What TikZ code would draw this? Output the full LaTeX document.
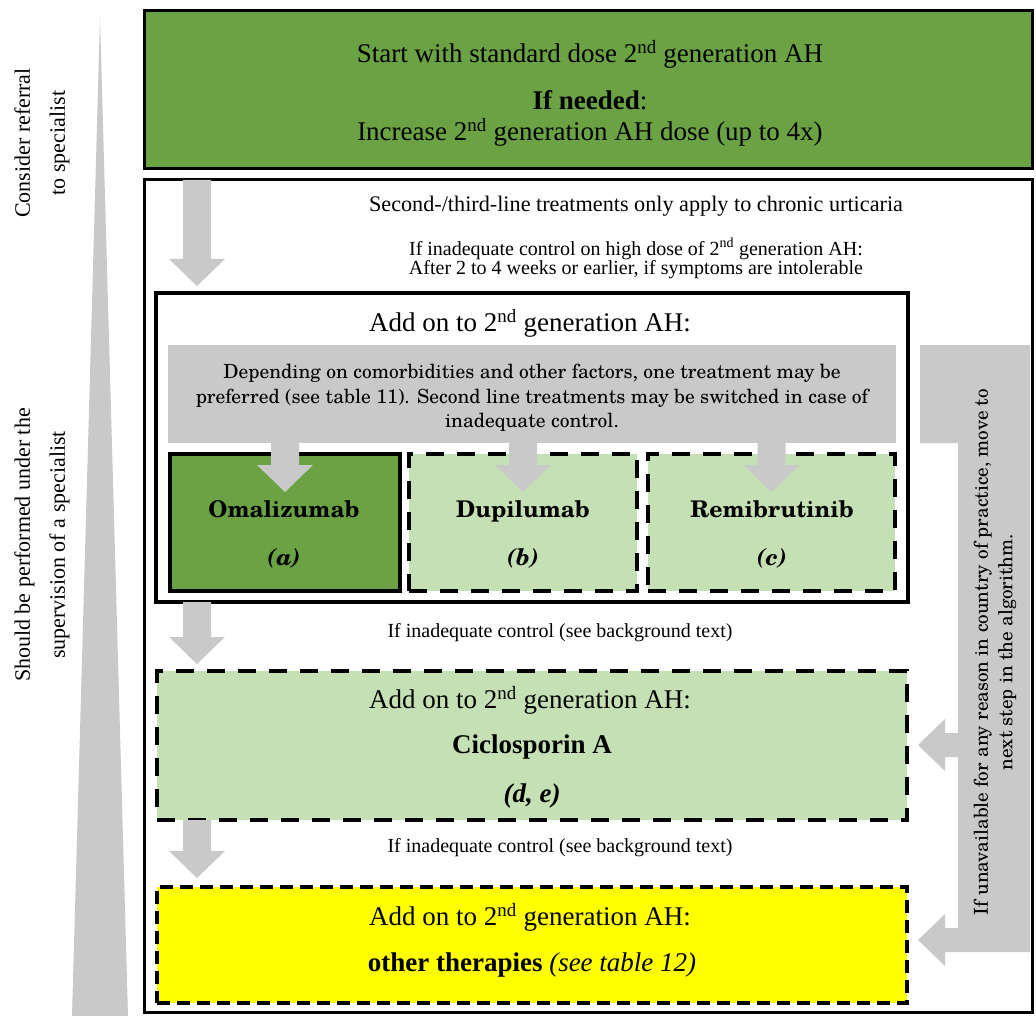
\documentclass[tikz,border=0pt]{standalone}
\usepackage{fontspec}
\setmainfont{Liberation Serif}
\newfontfamily\cent{TeX Gyre Schola}
\usetikzlibrary{calc}
\definecolor{dgreen}{HTML}{6AA244}
\definecolor{lgreen}{HTML}{C5E0B4}
\definecolor{agrey}{HTML}{C9C9C9}
\definecolor{yel}{HTML}{FFFF00}
\begin{document}
\begin{tikzpicture}[x=1pt,y=-1pt,
  every node/.style={inner sep=0pt, outer sep=0pt},
  solidbox/.style={draw=black, line width=3pt, rectangle, anchor=north west},
  dashbox/.style={draw=black, line width=4.5pt, dash pattern=on 18pt off 13pt, rectangle, anchor=north west},
  fdash/.style={draw=black, line width=4.5pt, dash pattern=on 13pt off 7pt, rectangle, anchor=north west},
  big/.style={font=\fontsize{27}{32}\selectfont},
  mid/.style={font=\fontsize{20}{24}\selectfont},
  cen/.style={font=\cent\fontsize{19.5}{24.5}\selectfont, align=center},
  lab/.style={font=\cent\bfseries\fontsize{23}{28}\selectfont, text height=17pt, text depth=5pt},
  pics/dnarrow/.style={code={\fill[agrey] (-14,0) -- (14,0) -- (14,{#1-27}) -- (28,{#1-27}) -- (0,#1) -- (-28,{#1-27}) -- (-14,{#1-27}) -- cycle;}}
]
\useasboundingbox (0,0) rectangle (1036,1016);
\fill[white] (0,0) rectangle (1036,1016);

% left wedge and labels
\fill[agrey] (100,18) -- (128,1016) -- (72,1016) -- cycle;
\node[rotate=90, align=center, font=\fontsize{22}{35}\selectfont] (lref) at (42,143) {Consider referral\\to specialist};
\node[rotate=90, align=center, font=\fontsize{22}{35}\selectfont] (lsup) at (42,545) {Should be performed under the\\supervision of a specialist};

% top green box
\node[solidbox, fill=dgreen, minimum width=888pt, minimum height=158pt] (top) at (144,11) {};
\node[big] (t1) at (590,54) {Start with standard dose 2\textsuperscript{nd} generation AH};
\node[big] (t2) at (590,100) {\textbf{If needed}:};
\node[big] (t3) at (590,132) {Increase 2\textsuperscript{nd} generation AH dose (up to 4x)};

% outer box
\node[solidbox, minimum width=888pt, minimum height=832pt] (outer) at (144,180) {};
\node[font=\fontsize{22.2}{24}\selectfont] (s1) at (636,206) {Second-/third-line treatments only apply to chronic urticaria};
\node[mid] (s2) at (636,249) {If inadequate control on high dose of 2\textsuperscript{nd} generation AH:};
\node[mid] (s3) at (636,270) {After 2 to 4 weeks or earlier, if symptoms are intolerable};

% second-line box
\node[solidbox, line width=3.5pt, minimum width=752pt, minimum height=309pt] (inner) at (156,293) {};
\node[big] (i1) at (530,323) {Add on to 2\textsuperscript{nd} generation AH:};
\node[anchor=north west, fill=agrey, minimum width=728pt, minimum height=98pt] (bar) at (168,345) {};
\node[cen] (bt) at (532,398) {Depending on comorbidities and other factors, one treatment may be\\preferred (see table 11). Second line treatments may be switched in case of\\inadequate control.};

\node[solidbox, line width=4.5pt, fill=dgreen, minimum width=230pt, minimum height=137pt] (oma) at (170,454) {};
\node[dashbox, fill=lgreen, minimum width=228pt, minimum height=137pt] (dup) at (409,454) {};
\node[dashbox, fill=lgreen, minimum width=247pt, minimum height=137pt] (rem) at (648,454) {};
\node[lab] (omat) at (284,511) {Omalizumab};
\node[lab] (omab) at (284,559) {\itshape (a)};
\node[lab] (dupt) at (523,511) {Dupilumab};
\node[lab] (dupb) at (523,559) {\itshape (b)};
\node[lab] (remt) at (772,511) {Remibrutinib};
\node[lab] (remb) at (772,559) {\itshape (c)};
\pic at (oma.north |- bar.south) {dnarrow=49};
\pic at (dup.north |- bar.south) {dnarrow=49};
\pic at (rem.north |- bar.south) {dnarrow=49};

% ciclosporin
\node[mid] (c0) at (560,633) {If inadequate control (see background text)};
\node[dashbox, fill=lgreen, minimum width=750pt, minimum height=149pt] (cic) at (157,671) {};
\node[big] (c1) at (530,700) {Add on to 2\textsuperscript{nd} generation AH:};
\node[big] (c2) at (532,747) {\textbf{Ciclosporin A}};
\node[big] (c3) at (532,796) {\textbf{\itshape (d, e)}};

% other therapies
\node[mid] (y0) at (560,848) {If inadequate control (see background text)};
\node[fdash, fill=yel, minimum width=750pt, minimum height=116pt] (yl) at (157,887) {};
\node[big] (y1) at (530,917) {Add on to 2\textsuperscript{nd} generation AH:};
\node[big] (y2) at (532,965) {\textbf{other therapies} \textit{(see table 12)}};

% main down arrows
\pic at (outer.north -| 197,0) {dnarrow=106};
\pic at (inner.south -| 197,0) {dnarrow=62};
\pic at (cic.south -| 197,0) {dnarrow=58};

% right bracket arrow
\fill[agrey] (920,345) -- (1030,345) -- (1030,952) -- (945,952) -- (945,966) -- (918,940) -- (945,914) -- (945,928) -- (958,928) -- (958,757) -- (945,757) -- (945,771) -- (918,745) -- (945,719) -- (945,733) -- (958,733) -- (958,443) -- (920,443) -- cycle;
\node[rotate=90, cen, font=\cent\fontsize{19.2}{24.5}\selectfont] (rt) at (995,652) {If unavailable for any reason in country of practice, move to\\next step in the algorithm.};
\end{tikzpicture}
\end{document}
